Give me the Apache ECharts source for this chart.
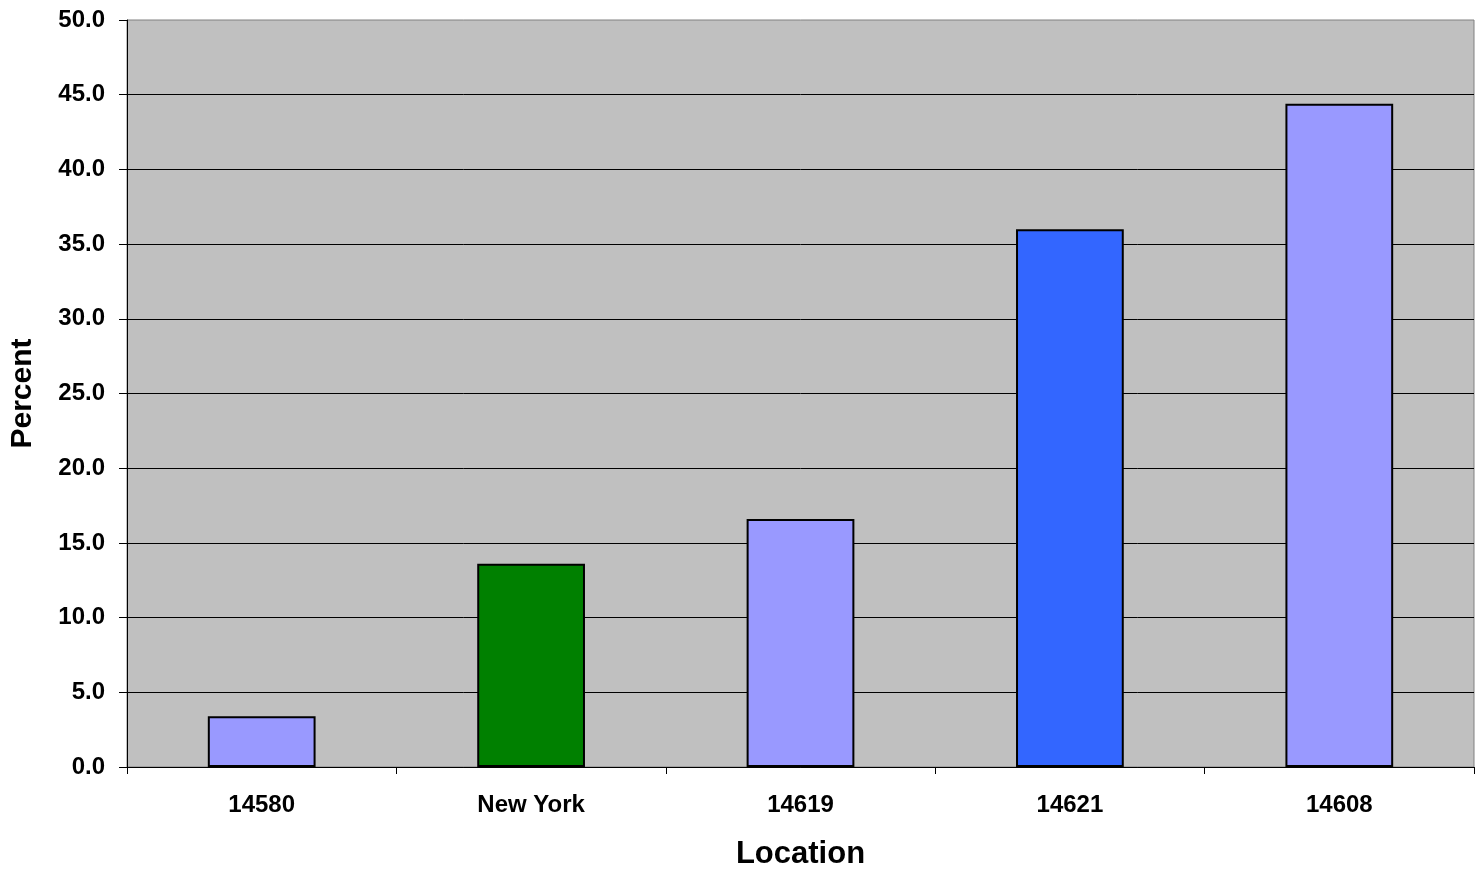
<!DOCTYPE html>
<html><head><meta charset="utf-8">
<script src="https://cdn.jsdelivr.net/npm/echarts@6/dist/echarts.min.js"></script>
<style>html,body{margin:0;padding:0;background:#fff}#c{width:1480px;height:869px}</style>
</head><body><div id="c"></div>
<script>
const categories = ['14580', 'New York', '14619', '14621', '14608'];
const values = [3.4, 13.6, 16.6, 36.0, 44.4];
const barColors = ['#9999FF', '#008000', '#9999FF', '#3366FF', '#9999FF'];
const yTicks = { min: 0, max: 50, interval: 5 };

const chart = echarts.init(document.getElementById('c'), null, { renderer: 'canvas' });
const font = 'Liberation Sans, Arial, sans-serif';
chart.setOption({
  animation: false,
  backgroundColor: '#fff',
  grid: { left: 127, right: 6, top: 20, bottom: 102, containLabel: false, outerBoundsMode: 'none',
    show: true, backgroundColor: '#C0C0C0', borderColor: '#808080', borderWidth: 1 },
  xAxis: {
    type: 'category', data: categories,
    name: 'Location', nameLocation: 'middle', nameGap: 72,
    nameTextStyle: { fontFamily: font, fontWeight: 'bold', fontSize: 31, color: '#000' },
    axisLine: { lineStyle: { color: '#000', width: 1 } },
    axisTick: { show: true, alignWithLabel: false, length: 7, lineStyle: { color: '#000' } },
    axisLabel: { fontFamily: font, fontWeight: 'bold', fontSize: 24, color: '#000', margin: 26 }
  },
  yAxis: {
    type: 'value', min: yTicks.min, max: yTicks.max, interval: yTicks.interval,
    name: 'Percent', nameLocation: 'middle', nameGap: 89, nameRotate: 90,
    nameTextStyle: { fontFamily: font, fontWeight: 'bold', fontSize: 30, color: '#000' },
    axisLine: { show: true, lineStyle: { color: '#000', width: 1 } },
    axisTick: { show: true, length: 8, lineStyle: { color: '#000' } },
    axisLabel: { fontFamily: font, fontWeight: 'bold', fontSize: 24, color: '#000', margin: 22, formatter: v => v.toFixed(1) },
    splitLine: { show: true, showMaxLine: false, lineStyle: { color: '#000', width: 1 } }
  },
  series: [{
    type: 'bar', barWidth: '40%',
    data: values.map((v, i) => ({ value: v, itemStyle: { color: barColors[i] } })),
    itemStyle: { borderColor: '#000', borderWidth: 2 }
  }]
});
</script></body></html>
